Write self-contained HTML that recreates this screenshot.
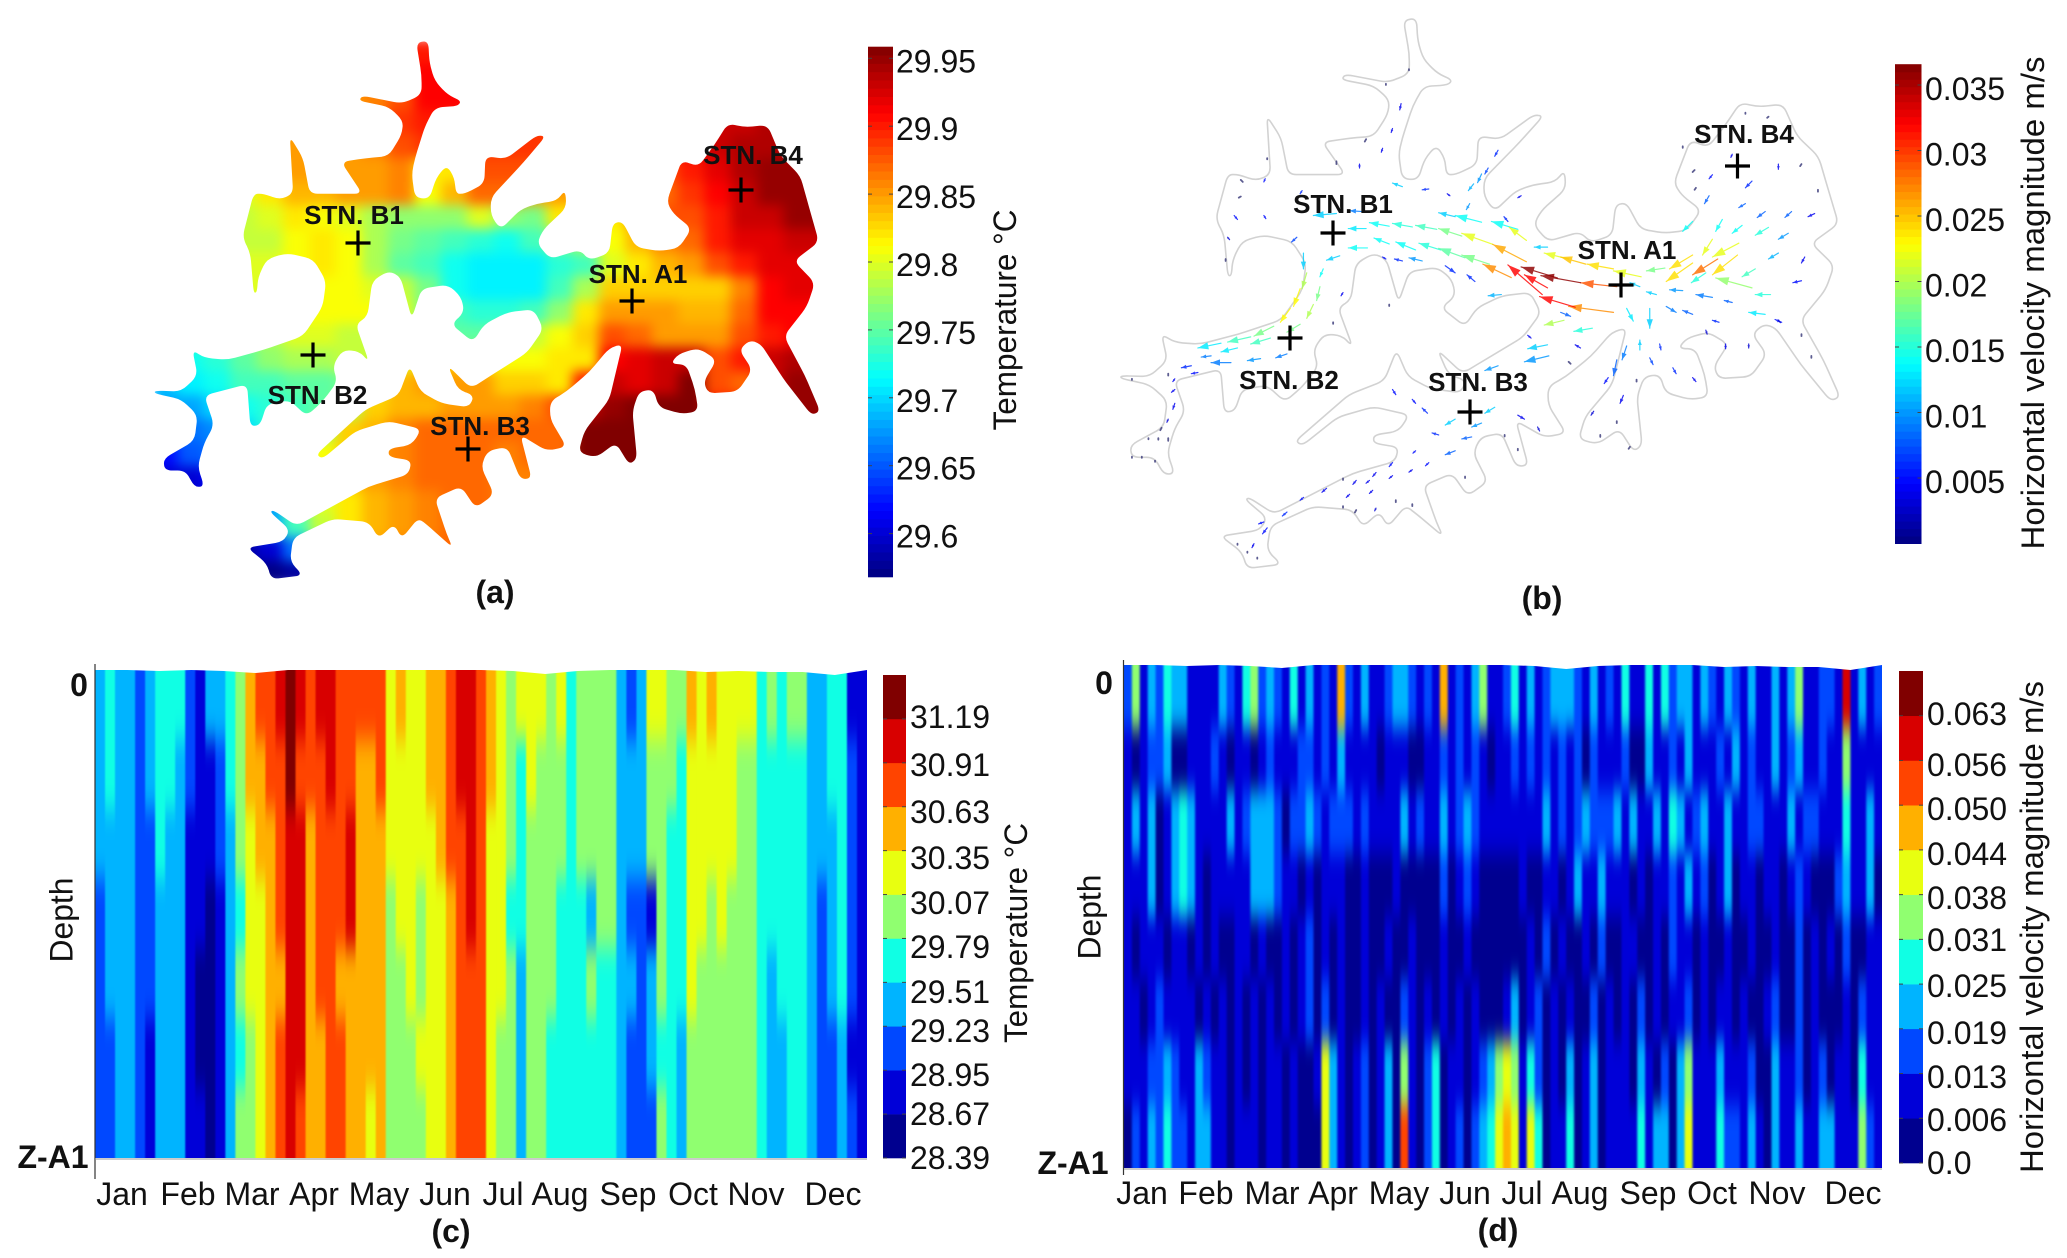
<!DOCTYPE html>
<html lang="en">
<head>
<meta charset="utf-8">
<title>Temperature and velocity maps and depth-time sections</title>
<style>
html,body{margin:0;padding:0;background:#fff;}
svg{display:block;font-family:"Liberation Sans",Arial,sans-serif;}
text{fill:#111;}
.tick{font-size:32px;}
.title{font-size:32px;}
.bold{font-size:32px;font-weight:bold;}
.stn{font-size:26px;font-weight:bold;}
</style>
</head>
<body>
<svg id="figure" xmlns="http://www.w3.org/2000/svg" width="2067" height="1258" viewBox="0 0 2067 1258">
  <defs>
    <clipPath id="lake-clip"><path id="lake-clip-path" d=""/></clipPath>
    <clipPath id="plot-c-clip"><rect x="95" y="670" width="772" height="488"/></clipPath>
    <clipPath id="plot-d-clip"><rect x="1124" y="665" width="758" height="503"/></clipPath>
    <filter id="blur-a" filterUnits="userSpaceOnUse" x="0" y="0" width="1033" height="620" color-interpolation-filters="sRGB"><feGaussianBlur stdDeviation="6"/></filter>
    <filter id="blur-c" filterUnits="userSpaceOnUse" x="50" y="600" width="860" height="620" color-interpolation-filters="sRGB"><feGaussianBlur stdDeviation="0.8 14"/></filter>
    <filter id="blur-d" filterUnits="userSpaceOnUse" x="1080" y="600" width="850" height="630" color-interpolation-filters="sRGB"><feGaussianBlur stdDeviation="1 12"/></filter>
  </defs>

  <g id="panel-a">
    <g clip-path="url(#lake-clip)">
      <g id="temp-cells" filter="url(#blur-a)"></g>
    </g>
    <g id="colorbar-a"></g>
    <text class="title" transform="translate(1016,320) rotate(-90)" text-anchor="middle" textLength="221" lengthAdjust="spacingAndGlyphs">Temperature °C</text>
    <text class="bold" x="495" y="603" text-anchor="middle">(a)</text>
  </g>

  <g id="panel-b">
    <path id="lake-outline-b" fill="none" stroke="#d2d2d2" stroke-width="1.6"/>
    <g id="arrows-b"></g>
    <g id="colorbar-b"></g>
    <text class="title" transform="translate(2044,303) rotate(-90)" text-anchor="middle" textLength="493" lengthAdjust="spacingAndGlyphs">Horizontal velocity magnitude m/s</text>
    <text class="bold" x="1542" y="609" text-anchor="middle">(b)</text>
  </g>

  <g id="stations"></g>

  <g id="panel-c">
    <g clip-path="url(#plot-c-clip)">
      <g id="cells-c" filter="url(#blur-c)"></g>
    </g>
    <path id="surface-c" fill="#fff"/>
    <line x1="95" y1="664" x2="95" y2="1179" stroke="#333" stroke-width="1.2"/>
    <line x1="95" y1="1159" x2="867" y2="1159" stroke="#999" stroke-width="1"/>
    <g id="colorbar-c"></g>
    <g id="months-c"></g>
    <text class="bold" x="79" y="696" text-anchor="middle">0</text>
    <text class="bold" x="53" y="1168" text-anchor="middle">Z-A1</text>
    <text class="title" transform="translate(64,920) rotate(-90)" text-anchor="middle" textLength="85" lengthAdjust="spacingAndGlyphs" dominant-baseline="middle">Depth</text>
    <text class="title" transform="translate(1027,933) rotate(-90)" text-anchor="middle" textLength="220" lengthAdjust="spacingAndGlyphs">Temperature °C</text>
    <text class="bold" x="451" y="1242" text-anchor="middle">(c)</text>
  </g>

  <g id="panel-d">
    <g clip-path="url(#plot-d-clip)">
      <g id="cells-d" filter="url(#blur-d)"></g>
    </g>
    <path id="surface-d" fill="#fff"/>
    <line x1="1123.5" y1="660" x2="1123.5" y2="1175" stroke="#333" stroke-width="1.2"/>
    <line x1="1124" y1="1169" x2="1882" y2="1169" stroke="#999" stroke-width="1"/>
    <g id="colorbar-d"></g>
    <g id="months-d"></g>
    <text class="bold" x="1104" y="694" text-anchor="middle">0</text>
    <text class="bold" x="1073" y="1174" text-anchor="middle">Z-A1</text>
    <text class="title" transform="translate(1092,917) rotate(-90)" text-anchor="middle" textLength="85" lengthAdjust="spacingAndGlyphs" dominant-baseline="middle">Depth</text>
    <text class="title" transform="translate(2043,927) rotate(-90)" text-anchor="middle" textLength="492" lengthAdjust="spacingAndGlyphs">Horizontal velocity magnitude m/s</text>
    <text class="bold" x="1498" y="1241" text-anchor="middle">(d)</text>
  </g>
</svg>

<script>
// ---------- Panel (a): shoreline and surface temperature (hundredths of a degree above 29 °C) ----------
const lakeOutline = [[632,108],[650,103],[652,160],[660,205],[680,240],[700,255],[695,268],[660,272],[645,320],[630,400],[625,440],[630,500],[652,503],[662,450],[678,418],[690,450],[692,490],[705,490],[735,465],[737,395],[768,402],[815,342],[828,345],[795,410],[745,500],[745,545],[760,580],[790,530],[815,515],[845,508],[858,480],[860,525],[825,580],[815,615],[835,655],[880,632],[895,658],[925,640],[930,565],[945,560],[965,625],[1000,635],[1030,628],[1050,578],[1022,540],[1012,510],[1035,405],[1060,422],[1085,365],[1105,312],[1130,322],[1165,316],[1185,395],[1215,445],[1225,505],[1243,612],[1205,660],[1237,715],[1225,775],[1190,850],[1222,950],[1245,1040],[1232,1050],[1190,960],[1155,870],[1138,860],[1122,885],[1142,935],[1120,990],[1075,995],[1068,965],[1088,910],[1060,880],[1030,895],[1018,920],[1042,922],[1055,985],[1060,1040],[1035,1047],[1000,1030],[992,985],[970,990],[960,1040],[967,1160],[955,1175],[935,1120],[905,1157],[878,1145],[887,1090],[925,1010],[945,870],[925,880],[895,940],[860,990],[835,1015],[835,1060],[860,1130],[830,1140],[790,1100],[807,1210],[790,1212],[770,1130],[740,1140],[730,1180],[750,1250],[722,1285],[700,1230],[660,1260],[678,1350],[687,1385],[650,1330],[635,1310],[610,1362],[598,1325],[575,1362],[560,1320],[505,1312],[445,1360],[440,1420],[460,1455],[412,1465],[405,1425],[375,1385],[430,1370],[440,1340],[410,1295],[415,1290],[450,1330],[560,1230],[620,1200],[625,1165],[590,1155],[590,1135],[625,1125],[640,1085],[590,1065],[540,1090],[490,1160],[480,1150],[555,1035],[605,1000],[622,925],[638,990],[670,1020],[712,1030],[720,1000],[695,985],[680,925],[715,982],[745,950],[800,892],[825,832],[810,782],[770,790],[735,820],[718,865],[685,820],[705,790],[700,750],[680,720],[640,730],[625,805],[608,700],[590,685],[565,710],[558,800],[540,820],[560,915],[545,888],[520,885],[505,925],[512,965],[490,1015],[465,1052],[440,1012],[405,1022],[395,1075],[380,1078],[375,972],[310,1000],[325,1075],[310,1120],[300,1180],[310,1230],[295,1232],[282,1190],[250,1190],[248,1160],[295,1115],[300,1050],[275,1010],[235,995],[235,988],[275,990],[300,950],[292,885],[310,905],[345,910],[400,885],[460,850],[490,775],[495,710],[475,655],[435,640],[405,655],[392,700],[390,740],[385,740],[380,640],[368,600],[385,490],[400,490],[425,505],[445,490],[440,345],[460,400],[470,490],[550,490],[518,410],[555,400],[590,395],[610,340],[612,305],[590,270],[545,255],[550,242],[610,262],[640,240],[640,190]];

const tempRow01 = [90,90,90,90,90,90,90,90,90,90,90,90,90,90,90,90,90,90,90,90,90,90,90,90,90,90];
const tempRow02 = [90,90,90,90,90,90,90,90,90,90,91,91,90,90,90,90,90,90,90,90,90,90,90,90,90,90];
const tempRow03 = [85,85,85,85,85,85,85,85,86,88,91,91,90,90,90,90,90,90,90,90,92,92,93,93,93,93];
const tempRow04 = [85,85,85,85,85,85,85,85,87,89,90,90,89,89,89,89,89,89,89,90,92,93,93,94,94,94];
const tempRow05 = [85,85,85,85,85,85,85,85,86,88,89,89,89,89,89,88,88,88,88,90,92,93,94,94,94,94];
const tempRow06 = [85,85,85,85,84,85,85,85,85,86,82,82,88,88,88,86,86,86,87,88,90,92,94,95,95,95];
const tempRow07 = [80,80,80,80,82,84,84,85,85,86,81,84,87,87,85,85,85,84,86,87,89,91,93,95,95,95];
const tempRow08 = [79,79,79,79,80,82,81,80,78,77,77,77,80,77,76,82,82,82,85,88,88,90,93,93,95,95];
const tempRow09 = [79,79,79,79,79,81,82,81,78,76,75,74,73,72,74,76,78,81,84,86,87,90,92,92,93,93];
const tempRow10 = [80,80,80,80,80,81,82,81,78,75,74,72,71,71,71,73,74,80,82,84,85,88,90,92,92,92];
const tempRow11 = [80,80,80,80,80,81,81,81,80,79,76,72,71,71,71,74,78,83,83,83,83,83,86,91,92,92];
const tempRow12 = [80,80,80,80,80,81,81,81,81,80,76,74,73,73,74,77,82,85,85,85,84,84,87,91,91,91];
const tempRow13 = [74,74,74,76,78,80,80,79,79,79,76,75,75,76,79,81,83,88,87,85,85,85,88,90,91,91];
const tempRow14 = [70,72,73,75,77,78,78,79,79,80,82,83,82,81,81,82,82,91,92,93,93,88,90,93,94,94];
const tempRow15 = [69,71,72,74,74,75,75,76,80,84,85,85,85,83,83,82,90,93,92,93,96,88,87,93,95,95];
const tempRow16 = [68,68,70,72,73,74,75,78,83,84,84,85,85,85,86,88,93,95,96,96,96,90,90,95,95,95];
const tempRow17 = [65,66,67,70,73,74,78,83,84,86,87,87,87,87,87,87,96,96,96,96,96,96,96,96,96,96];
const tempRow18 = [62,65,66,70,73,78,81,83,85,86,87,87,87,86,87,87,96,96,96,96,96,96,96,96,96,96];
const tempRow19 = [60,60,62,70,75,80,82,84,85,86,87,87,87,86,86,86,96,96,96,96,96,96,96,96,96,96];
const tempRow20 = [60,60,60,65,68,75,80,82,84,85,86,87,87,86,86,86,86,90,90,90,90,90,90,90,90,90];
const tempRow21 = [58,58,58,60,68,74,79,82,84,85,86,87,87,87,87,87,87,87,87,87,87,87,87,87,87,87];
const tempRow22 = [57,57,57,58,60,66,72,80,85,86,87,87,87,87,87,87,87,87,87,87,87,87,87,87,87,87];
const tempRow23 = [57,57,57,57,57,58,60,70,80,85,87,87,87,87,87,87,87,87,87,87,87,87,87,87,87,87];
const tempGrid = [tempRow01,tempRow02,tempRow03,tempRow04,tempRow05,tempRow06,tempRow07,tempRow08,tempRow09,tempRow10,tempRow11,tempRow12,tempRow13,tempRow14,tempRow15,tempRow16,tempRow17,tempRow18,tempRow19,tempRow20,tempRow21,tempRow22,tempRow23];
const tempTicks = [29.95,29.9,29.85,29.8,29.75,29.7,29.65,29.6];
const tempTickLabels = ["29.95","29.9","29.85","29.8","29.75","29.7","29.65","29.6"];

// ---------- Panel (b): velocity vectors [tailX, tailY, headX, headY, speed m/s] in map units ----------
const velocityVectors = [
[885,725,830,715,.029],[830,715,770,697,.036],[795,703,740,675,.036],[772,745,720,670,.032],[880,790,812,775,.027],[822,777,768,750,.032],[780,728,745,695,.032],
[505,578,478,578,.013],[540,572,510,563,.014],[575,574,545,565,.015],[612,580,580,570,.016],[650,597,615,578,.018],[697,618,650,590,.022],[748,662,697,618,.026],
[507,627,478,627,.014],[465,647,445,658,.012],[540,617,517,602,.014],[580,632,550,612,.014],[618,632,585,615,.015],[655,652,615,628,.017],[692,668,650,645,.018],[725,702,682,668,.027],
[460,540,425,545,.012],[500,535,480,533,.009],[680,562,640,545,.014],[640,548,615,538,.012],[735,580,695,560,.014],[748,608,722,575,.022],
[560,472,545,463,.012],[600,478,590,480,.006],[632,495,628,490,.004],[668,465,660,482,.011],[680,440,674,462,.010],[705,380,700,395,.006],[690,425,685,440,.007],[662,515,657,530,.010],[735,500,740,495,.004],[720,560,714,548,.006],
[625,672,640,690,.006],[590,660,570,652,.010],[560,660,548,655,.006],[535,655,530,650,.005],[670,712,658,695,.006],[710,745,690,748,.011],[800,790,815,800,.008],
[780,625,760,625,.012],[812,655,775,640,.022],[838,668,800,650,.025],[880,680,840,668,.024],[922,700,880,685,.022],[958,678,930,685,.018],[1000,645,965,680,.024],[1038,655,1000,695,.028],[1070,615,1030,650,.022],[1030,605,1015,645,.022],[1068,645,1030,695,.024],[1000,665,960,712,.024],[1020,690,998,715,.015],
[1000,560,985,585,.014],[1045,555,1035,585,.014],[1025,495,1018,515,.008],[1080,515,1070,525,.008],[1110,535,1098,550,.008],[1075,570,1060,590,.014],[1115,575,1095,595,.015],[1150,535,1140,550,.008],[1185,540,1175,548,.004],[1145,590,1130,605,.01],[1130,640,1115,655,.011],[1095,680,1075,700,.016],[1170,650,1165,665,.004],[1165,710,1152,715,.005],
[1090,728,1035,703,.019],[1118,745,1095,745,.015],[985,735,965,733,.01],[1030,752,1005,745,.009],[1060,765,1048,760,.008],[960,775,975,790,.009],[1110,795,1085,790,.013],[1000,795,985,785,.008],[1040,815,1030,810,.006],[1135,815,1125,808,.005],[945,745,930,738,.012],[920,725,905,715,.012],
[805,810,775,822,.02],[848,830,820,838,.015],[780,872,750,882,.012],[782,900,745,915,.01],[705,925,685,937,.01],[830,880,822,872,.004],[755,855,750,848,.004],[815,920,812,915,.003],
[935,780,935,830,.012],[900,780,910,812,.013],[920,885,920,860,.012],[900,875,893,910,.009],[885,910,880,950,.008],[872,955,866,970,.005],[950,870,952,885,.006],[935,905,940,922,.007],[970,930,975,945,.006],[1000,955,1005,965,.004],[915,960,915,965,.003],[895,1000,890,1020,.004],[850,1040,846,1050,.003],[905,1130,903,1135,.002],[860,1100,860,1105,.002],[885,1065,885,1070,.002],
[1050,870,1050,882,.004],[1020,835,1022,845,.003],[1085,870,1085,880,.003],[1130,810,1133,816,.003],[1165,845,1165,850,.002],[1180,900,1180,905,.002],[1190,480,1190,485,.002],
[1090,458,1080,475,.006],[1030,442,1025,452,.005],[1003,430,1000,435,.003],[1130,415,1130,428,.004],[1165,415,1163,420,.002],[1115,295,1113,298,.002],[1080,285,1080,288,.002],[985,370,985,374,.002],[1005,475,1003,480,.002],[1060,390,1058,398,.004],
[570,175,570,178,.002],[535,212,535,215,.002],[558,262,556,278,.004],[545,325,543,335,.004],[530,375,528,385,.004],[505,352,503,358,.004],[495,415,495,425,.004],[460,408,460,415,.003],[355,400,355,403,.002],[315,455,318,460,.004],[352,452,350,460,.005],[408,482,405,490,.006],[305,545,310,555,.005],[350,545,353,553,.005],[295,600,298,606,.003],[315,497,312,500,.002],[292,655,292,660,.002],[400,600,392,612,.007],
[410,640,410,680,.012],[415,690,408,730,.02],[405,730,395,775,.023],[390,780,375,815,.023],[365,825,335,850,.018],[330,852,295,865,.016],[285,868,250,880,.013],[440,680,435,700,.014],[435,725,430,760,.018],[425,770,415,805,.02],[405,820,385,840,.018],[360,855,330,870,.016],[310,880,285,890,.013],[270,900,255,903,.009],[385,895,368,905,.009],[345,907,325,912,.01],[300,917,270,917,.009],[240,925,225,930,.006],[250,942,240,945,.005],[215,958,212,965,.004],[205,945,205,950,.003],[215,985,210,992,.004],[215,1020,212,1035,.004],[205,1060,203,1068,.003],[195,1082,193,1088,.003],[205,1108,205,1115,.002],[190,1108,190,1112,.002],[175,1108,175,1111,.002],[165,1155,165,1158,.001],[150,1155,150,1158,.001],[185,1165,185,1168,.001],[150,958,150,961,.001],[470,740,467,748,.004],[455,815,455,819,.002],[540,770,540,774,.002],
[700,1030,685,1045,.012],[680,1070,665,1080,.01],[640,1060,625,1075,.012],[615,1100,605,1095,.006],[665,1105,650,1110,.008],[640,1140,625,1150,.008],[600,1170,595,1178,.005],[580,1140,576,1146,.005],[545,1170,540,1180,.005],[520,1195,515,1205,.004],[575,1188,570,1194,.004],[490,1215,485,1225,.004],[545,1203,540,1210,.004],[510,1215,505,1222,.004],[480,1250,475,1258,.004],[515,1240,510,1248,.004],[445,1235,438,1245,.004],[410,1258,405,1265,.005],[385,1295,378,1305,.006],[350,1320,342,1325,.005],[355,1335,348,1350,.005],[335,1375,332,1385,.004],[598,1045,590,1032,.006],[575,1010,580,1020,.005],[545,985,550,998,.005],[735,1050,745,1060,.004],[765,1080,768,1090,.003],[715,1100,715,1104,.001],[735,1135,735,1139,.001],[655,1205,655,1209,.002],[575,1275,575,1280,.003],[550,1265,550,1270,.003],[520,1285,518,1292,.003],[470,1280,470,1284,.002],[470,1210,470,1214,.002],[490,1290,488,1296,.003],[310,1375,310,1378,.001],[340,1410,340,1413,.001],[325,1395,325,1398,.001]
];
const velocityTicks = [.035,.03,.025,.02,.015,.01,.005];
const velocityTickLabels = ["0.035","0.03","0.025","0.02","0.015","0.01","0.005"];

// ---------- Stations ----------
const stationNames = ["STN. B1","STN. A1","STN. B4","STN. B2","STN. B3"];
const stationSites = ["a","a","a","a","a","b","b","b","b","b"];
const stationMarkX = [358,632,741,313,468,1333,1621,1737.5,1290,1470];
const stationMarkY = [243,301,190,355,449,233,285,166,338,412];
const stationLabelX = [354,638,753,317.5,480,1343,1627,1744,1289,1478];
const stationLabelY = [224,283,164,404,435,213,259,143,389,391];

// ---------- Panel (c): contour band index per month step at seven depths (top to bottom) ----------
const tempDepth1 = [3,4,3,3,2,3,4,4,4,2,1,3,3,4,5,7,8,8,9,10,9,8,9,9,8,8,8,8,8,6,7,6,6,7,7,8,9,9,8,7,6,5,6,6,6,5,6,4,5,5,5,5,3,2,3,6,6,5,5,7,6,7,6,6,6,6,4,5,4,5,5,3,3,4,4,1,1];
const tempDepth2 = [3,4,3,3,2,3,4,4,3,2,1,1,2,4,5,7,7,8,8,10,8,8,8,9,8,8,7,7,8,6,6,6,6,7,7,8,9,9,8,7,6,5,4,6,5,5,5,4,5,5,5,5,3,3,3,5,5,5,4,6,6,6,6,6,5,5,4,4,4,4,4,3,3,4,4,2,1];
const tempDepth3 = [3,3,3,3,2,2,4,3,3,1,1,1,2,3,5,6,7,7,8,9,9,7,8,8,8,9,7,7,7,6,6,6,6,6,7,8,8,9,8,6,6,5,4,5,5,5,5,4,5,5,5,5,3,3,3,5,5,4,4,6,6,6,6,6,5,5,4,4,4,4,4,3,3,3,4,2,1];
const tempDepth4 = [2,3,3,3,2,2,3,3,3,1,1,0,1,3,4,6,6,7,8,9,9,7,8,8,8,9,7,7,7,5,6,6,5,6,6,7,8,9,8,6,6,4,4,5,5,5,4,4,4,3,5,5,3,2,2,1,5,4,4,6,6,5,6,5,5,5,4,4,4,4,4,3,2,3,4,2,1];
const tempDepth5 = [2,3,3,3,2,2,3,3,3,1,0,0,1,3,5,6,6,7,7,9,9,7,8,8,7,7,7,7,7,5,5,6,5,6,6,7,8,8,8,6,6,5,3,5,5,5,4,4,4,5,4,4,3,3,2,3,5,4,4,6,5,5,5,5,5,5,4,3,4,4,4,3,2,3,4,2,1];
const tempDepth6 = [2,2,3,3,2,1,3,3,3,1,0,0,1,3,4,5,6,7,8,9,9,7,7,8,8,7,7,7,7,5,5,5,6,6,6,7,8,8,8,6,5,5,3,5,5,4,4,4,4,4,4,4,3,2,2,3,4,4,3,5,5,5,5,5,5,5,4,3,3,4,4,3,2,2,3,1,1];
const tempDepth7 = [2,2,3,3,2,1,3,3,3,1,1,0,1,3,5,5,6,7,8,9,8,7,7,8,8,7,7,6,7,5,5,5,5,6,6,7,8,8,8,6,5,5,3,5,5,4,4,4,4,4,4,4,3,2,2,2,5,4,3,5,5,5,5,5,5,5,4,3,3,4,4,3,2,2,3,2,1];
const tempSection = [tempDepth1,tempDepth2,tempDepth3,tempDepth4,tempDepth5,tempDepth6,tempDepth7];
const tempBandLabels = ["28.39","28.67","28.95","29.23","29.51","29.79","30.07","30.35","30.63","30.91","31.19"];
const tempBandLabelY = [1156,1112,1073,1029,990,945,901,856,810,763,715];

// ---------- Panel (d): contour band index per time step at eight depths (top to bottom) ----------
const velDepth1 = [2,5,1,3,2,4,3,3,1,1,1,1,3,2,1,4,5,2,3,2,1,4,1,3,1,2,1,7,2,1,3,1,1,2,3,3,2,1,2,1,7,1,2,1,3,5,1,1,2,4,1,3,1,2,3,3,3,2,1,3,1,2,1,4,1,1,4,1,4,2,3,3,1,3,2,1,3,2,1,3,1,1,3,1,3,5,1,1,2,2,1,9,1,3,1,2];
const velDepth2 = [1,0,1,2,2,3,0,0,1,1,1,2,1,0,1,1,0,1,2,1,1,1,2,2,1,2,1,3,1,1,1,1,0,1,1,1,0,0,1,1,2,1,2,1,2,1,0,1,1,2,1,2,1,2,1,2,1,2,0,2,1,1,1,2,0,0,3,1,1,2,1,3,1,1,1,2,1,3,1,2,1,1,3,1,2,3,1,1,2,1,1,5,1,1,1,1];
const velDepth3 = [1,3,1,3,0,1,3,4,3,1,1,1,1,3,1,2,3,3,3,2,0,2,2,3,2,1,2,2,2,1,2,1,1,1,1,3,1,2,1,1,3,1,2,3,2,1,1,1,1,1,1,1,1,3,1,2,1,2,3,2,2,2,3,1,3,1,1,3,1,4,3,1,2,3,1,1,3,1,1,2,2,1,1,1,3,1,2,2,1,1,1,4,1,1,3,1];
const velDepth4 = [1,1,1,3,0,1,3,4,3,1,0,1,1,1,1,1,3,3,3,2,1,1,0,1,0,1,1,1,0,0,1,0,0,0,1,0,0,0,0,0,2,0,1,2,1,0,0,0,0,0,1,0,0,1,1,0,1,3,1,1,3,1,1,1,0,1,0,1,1,2,1,3,1,2,0,1,3,0,1,1,0,1,1,0,1,2,1,0,0,0,2,3,1,1,3,0];
const velDepth5 = [1,0,1,1,1,0,1,1,0,1,0,1,0,0,1,1,0,1,0,0,1,0,1,2,0,1,0,1,0,0,1,0,0,1,0,0,1,0,0,0,1,0,0,1,0,0,0,0,0,0,0,1,0,2,0,1,0,0,1,0,2,0,0,1,1,0,0,1,0,2,1,1,0,1,0,0,1,0,0,1,0,0,1,0,0,2,0,1,0,1,0,2,0,0,1,1];
const velDepth6 = [1,1,0,1,2,1,1,1,1,0,1,0,1,0,1,0,1,0,1,0,1,0,1,2,0,2,0,1,0,0,1,0,1,0,0,2,1,0,1,0,1,0,1,0,1,0,0,0,1,3,0,1,2,0,1,0,1,0,0,2,0,1,0,1,0,2,0,1,0,1,1,2,0,1,0,1,1,0,1,0,0,1,2,0,0,2,0,1,0,0,0,1,0,2,1,1];
const velDepth7 = [1,1,1,2,2,3,2,1,1,3,2,1,1,0,1,0,1,0,1,1,0,1,0,0,1,6,3,1,0,1,2,0,1,3,0,5,1,0,2,4,0,1,1,0,1,2,3,5,6,5,1,4,2,0,1,0,3,0,1,3,0,1,1,1,0,3,1,0,2,0,3,5,1,1,1,3,1,1,1,2,0,0,3,1,1,2,0,1,2,0,1,1,0,4,1,1];
const velDepth8 = [0,2,1,3,2,4,2,2,1,3,3,1,1,0,1,1,1,0,1,1,0,1,0,0,0,6,3,1,0,1,2,0,1,3,0,8,1,0,2,4,0,1,2,0,2,3,4,6,7,6,1,6,4,0,1,1,4,0,1,3,0,1,1,1,1,4,1,3,3,0,3,6,1,1,1,4,2,2,1,3,1,0,3,1,1,3,1,1,3,3,1,1,1,5,2,1];
const velSection = [velDepth1,velDepth2,velDepth3,velDepth4,velDepth5,velDepth6,velDepth7,velDepth8];
const velBandLabels = ["0.0","0.006","0.013","0.019","0.025","0.031","0.038","0.044","0.050","0.056","0.063"];
const velBandLabelY = [1161,1118,1075,1031,984,938,896,852,807,763,712];

// ---------- Water-surface drop below the section top, evenly spaced along the year ----------
const surfaceDrop = [0,0,1,0,1,3,0,0,0,0,0,0,0,1,4,1,0,0,0,2,1,2,2,5,0];

// ---------- Shared axis categories ----------
const months = ["Jan","Feb","Mar","Apr","May","Jun","Jul","Aug","Sep","Oct","Nov","Dec"];
const monthXc = [122,188,252,314,379,445,503,560,628,693,756,833];
const monthXd = [1142,1206,1272,1333,1399,1465,1522,1580,1648,1712,1777,1853];
const bandColors = ["#00008f","#0000d8","#0048ff","#00b4ff","#10ffe4","#90ff70","#e8ff10","#ffb000","#ff4400","#d80000","#800000"];

// ---------- Scales ----------
const NS = "http://www.w3.org/2000/svg";
const xA = v => v / 1.518;
const yA = v => v / 2.529;
const xOutlineB = v => 953.8 + 0.7117 * v;
const yOutlineB = v => -23.3 + 0.4039 * v;
const xVec = v => 1033 + v / 1.516;
const yVec = v => v / 2.529;
const tempBarY = v => 262 + (29.8 - v) / 0.05 * 67.9;
const velBarY = v => 281.5 + (0.02 - v) / 0.005 * 65.5;
function clamp01(v){ return Math.max(0, Math.min(1, v)); }
function jet(t){
  t = clamp01(t);
  const r = clamp01(Math.min(4*t-1.5, -4*t+4.5));
  const g = clamp01(Math.min(4*t-0.5, -4*t+3.5));
  const b = clamp01(Math.min(4*t+0.5, -4*t+2.5));
  return "rgb(" + Math.round(r*255) + "," + Math.round(g*255) + "," + Math.round(b*255) + ")";
}
function make(parent, tag, attrs, content){
  const node = document.createElementNS(NS, tag);
  for (const key in attrs) node.setAttribute(key, attrs[key]);
  if (content !== undefined) node.textContent = content;
  parent.appendChild(node);
  return node;
}
function byId(id){ return document.getElementById(id); }

// Rounded shoreline path: each corner is replaced by a short quadratic curve
function roundedPath(points, sx, sy, radius){
  const pts = points.map(p => [sx(p[0]), sy(p[1])]);
  const n = pts.length;
  let d = "";
  pts.forEach((p, i) => {
    const prev = pts[(i - 1 + n) % n], next = pts[(i + 1) % n];
    const lenA = Math.hypot(prev[0] - p[0], prev[1] - p[1]) || 1;
    const lenB = Math.hypot(next[0] - p[0], next[1] - p[1]) || 1;
    const ra = Math.min(radius, 0.45 * lenA), rb = Math.min(radius, 0.45 * lenB);
    const ax = p[0] + (prev[0] - p[0]) * ra / lenA, ay = p[1] + (prev[1] - p[1]) * ra / lenA;
    const bx = p[0] + (next[0] - p[0]) * rb / lenB, by = p[1] + (next[1] - p[1]) * rb / lenB;
    d += (i === 0 ? "M" : "L") + ax.toFixed(1) + "," + ay.toFixed(1) + "Q" + p[0].toFixed(1) + "," + p[1].toFixed(1) + " " + bx.toFixed(1) + "," + by.toFixed(1);
  });
  return d + "Z";
}
byId("lake-clip-path").setAttribute("d", roundedPath(lakeOutline, xA, yA, 8));
byId("lake-outline-b").setAttribute("d", roundedPath(lakeOutline, xOutlineB, yOutlineB, 8));

// Panel (a) temperature field
const tempTop = 29.9585, tempBottom = 29.568;
tempGrid.forEach((row, r) => {
  row.forEach((hundredths, c) => {
    const temp = 29 + hundredths / 100;
    const cell = make(byId("temp-cells"), "rect", {
      x: xA(230 + 40 * c) - 0.5, y: yA(100 + 60 * r) - 0.5,
      width: 40 / 1.518 + 1, height: 60 / 2.529 + 1,
      fill: jet((temp - tempBottom) / (tempTop - tempBottom))
    });
    
    
  });
});

// Continuous colour bars
function continuousBar(group, x, w, yTop, yBottom, name){
  const steps = 64;
  for (let i = 0; i < steps; i++){
    const h = (yBottom - yTop) / steps;
    const seg = make(group, "rect", {x: x, y: yBottom - (i + 1) * h - 0.3, width: w, height: h + 0.6, fill: jet((i + 0.5) / steps)});
    
    
  }
}
continuousBar(byId("colorbar-a"), 868, 25, 47, 577, 'temperature-colorbar-segment');
continuousBar(byId("colorbar-b"), 1895, 26.5, 64.5, 543.7, 'velocity-colorbar-segment');

function barTick(group, x, w, y, name){
  const left = make(group, "line", {x1: x, x2: x + 4, y1: y, y2: y, stroke: "#444", "stroke-width": 1});
  
  
  const right = make(group, "line", {x1: x + w - 4, x2: x + w, y1: y, y2: y, stroke: "#444", "stroke-width": 1});
  
  
}
tempTicks.forEach((v, i) => {
  const y = tempBarY(v);
  barTick(byId("colorbar-a"), 868, 25, y, 'temperature-colorbar-tick');
  const label = make(byId("colorbar-a"), "text", {class: "tick", x: 896, y: y + 14}, tempTickLabels[i]);
  
  
});
velocityTicks.forEach((v, i) => {
  const y = velBarY(v);
  barTick(byId("colorbar-b"), 1895, 26.5, y, 'velocity-colorbar-tick');
  const label = make(byId("colorbar-b"), "text", {class: "tick", x: 1925, y: y + 15}, velocityTickLabels[i]);
  
  
});

// Panel (b) velocity vectors
velocityVectors.forEach(vec => {
  const x1 = xVec(vec[0]), y1 = yVec(vec[1]), x2 = xVec(vec[2]), y2 = yVec(vec[3]);
  const speed = vec[4];
  const colour = jet(speed / 0.0366);
  const len = Math.hypot(x2 - x1, y2 - y1) || 1;
  const ux = (x2 - x1) / len, uy = (y2 - y1) / len;
  const g = make(byId("arrows-b"), "g", {opacity: 0.82});
  
  
  const shaft = make(g, "line", {x1: x1, y1: y1, x2: x2, y2: y2, stroke: len < 3 ? "#3a3a7a" : colour, "stroke-width": len < 3 ? 1.8 : 1.2, "stroke-linecap": "round"});
  
  
  if (len >= 3){
    const hl = Math.min(12, 0.4 * len) + 1, hw = Math.min(3.4, 0.12 * len) + 0.8;
    const bx = x2 - ux * hl, by = y2 - uy * hl;
    const head = make(g, "polygon", {points: [x2, y2, bx - uy * hw, by + ux * hw, bx + uy * hw, by - ux * hw].map(n => n.toFixed(1)).join(" "), fill: colour});
    
    
  }
});

// Stations
stationSites.forEach((site, i) => {
  const mx = stationMarkX[i], my = stationMarkY[i];
  const g = make(byId("stations"), "g", {});
  
  
  const cross = make(g, "path", {d: "M" + (mx - 12.5) + "," + my + "H" + (mx + 12.5) + "M" + mx + "," + (my - 12.5) + "V" + (my + 12.5), stroke: "#000", "stroke-width": 3.2, fill: "none"});
  
  
  const label = make(g, "text", {class: "stn", x: stationLabelX[i], y: stationLabelY[i], "text-anchor": "middle"}, stationNames[i % 5]);
  
  
});

// Section panels (c) and (d)
function sectionCells(group, section, x0, y0, w, h, name){
  const rows = section.length;
  const rowH = h / rows;
  section.forEach((row, r) => {
    const colW = w / row.length;
    row.forEach((band, c) => {
      const top = y0 + r * rowH - (r === 0 ? 40 : 0);
      const bottom = y0 + (r + 1) * rowH + (r === rows - 1 ? 40 : 0);
      const left = x0 + c * colW - (c === 0 ? 10 : 0);
      const right = x0 + (c + 1) * colW + (c === row.length - 1 ? 10 : 0);
      const cell = make(group, "rect", {x: left, y: top, width: right - left + 0.4, height: bottom - top + 0.4, fill: bandColors[band]});
      
      
    });
  });
}
sectionCells(byId("cells-c"), tempSection, 95, 670, 772, 488, 'temperature-section-cell');
sectionCells(byId("cells-d"), velSection, 1124, 665, 758, 503, 'velocity-section-cell');

function surfacePath(x0, w, top){
  const step = w / (surfaceDrop.length - 1);
  let d = "M" + x0 + "," + (top - 3);
  surfaceDrop.forEach((drop, i) => { d += "L" + (x0 + i * step).toFixed(1) + "," + (top + drop); });
  return d + "L" + (x0 + w) + "," + (top - 3) + "Z";
}
byId("surface-c").setAttribute("d", surfacePath(95, 772, 670));
byId("surface-d").setAttribute("d", surfacePath(1124, 758, 665));

function bandBar(group, x, w, yTop, yBottom, labels, labelX, labelY, name){
  const h = (yBottom - yTop) / bandColors.length;
  bandColors.forEach((colour, i) => {
    const seg = make(group, "rect", {x: x, y: yBottom - (i + 1) * h, width: w, height: h + 0.3, fill: colour});
    
    
    barTick(group, x, w, yBottom - i * h, name + '-tick');
  });
  labels.forEach((text, i) => {
    const label = make(group, "text", {class: "tick", x: labelX, y: labelY[i] + 13}, text);
    
    
  });
}
bandBar(byId("colorbar-c"), 883, 23, 675, 1158, tempBandLabels, 910, tempBandLabelY, 'temperature-bar');
bandBar(byId("colorbar-d"), 1899, 24, 671, 1163, velBandLabels, 1927, velBandLabelY, 'velocity-bar');

function monthLabels(group, xs, y, name){
  months.forEach((m, i) => {
    const label = make(group, "text", {class: "tick", x: xs[i], y: y, "text-anchor": "middle"}, m);
    
    
  });
}
monthLabels(byId("months-c"), monthXc, 1205, 'month-label-c');
monthLabels(byId("months-d"), monthXd, 1204, 'month-label-d');
</script>
</body>
</html>
